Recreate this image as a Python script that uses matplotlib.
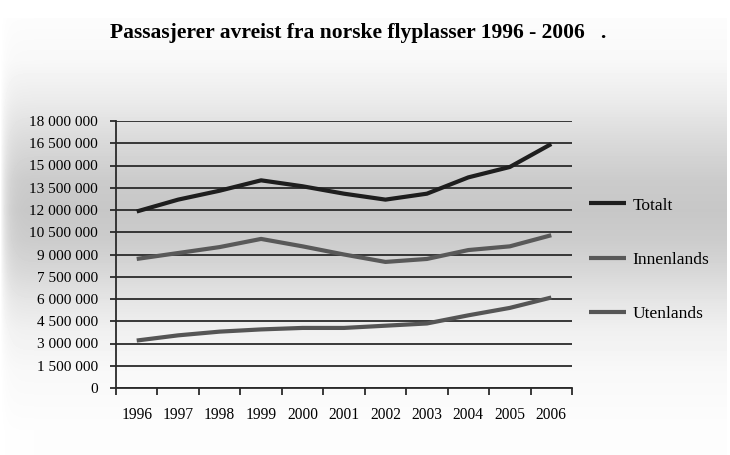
import matplotlib.pyplot as plt
import numpy as np

years = ['1996', '1997', '1998', '1999', '2000', '2001',
         '2002', '2003', '2004', '2005', '2006']
totalt = [11.9, 12.7, 13.3, 14.0, 13.6, 13.1, 12.7, 13.1, 14.2, 14.9, 16.45]
innenlands = [8.7, 9.1, 9.5, 10.05, 9.55, 9.0, 8.5, 8.7, 9.3, 9.55, 10.3]
utenlands = [3.2, 3.55, 3.8, 3.95, 4.05, 4.05, 4.2, 4.35, 4.9, 5.4, 6.1]
yticks = [0, 1.5, 3, 4.5, 6, 7.5, 9, 10.5, 12, 13.5, 15, 16.5, 18]
title = 'Passasjerer avreist fra norske flyplasser 1996 - 2006   .'


def tick_label(v):
    n = int(round(v * 1_000_000))
    return f'{n:,}'.replace(',', ' ')


def background(fig):
    # grey band behind the chart, light at top and bottom
    h, w = 455, 730
    rows = np.arange(h)
    g = np.interp(rows, [18, 60, 100, 140, 180, 210, 240, 270, 300, 330, 370, 430],
                  [252, 248, 235, 218, 203, 199, 204, 215, 229, 240, 248, 253])
    g[rows < 18] = 255
    img = np.repeat(g[:, None], w, axis=1)
    cols = np.arange(w)
    img = img + (255 - img) * np.exp(-cols / 6.0)[None, :]
    img[:, cols > 726] = 255
    bg = fig.add_axes([0, 0, 1, 1], zorder=-10)
    bg.imshow(img / 255, cmap='gray', vmin=0, vmax=1, aspect='auto')
    bg.axis('off')


def main():
    plt.rcParams['font.family'] = ['Liberation Serif', 'DejaVu Serif']
    fig = plt.figure(figsize=(7.3, 4.55), dpi=100)
    background(fig)

    ax = fig.add_axes([116 / 730, 67 / 455, 456 / 730, 267 / 455])
    ax.patch.set_alpha(0)
    x = np.arange(len(years))

    ax.plot(x, totalt, color='#1e1e1e', lw=3.0, label='Totalt',
            solid_capstyle='butt')
    ax.plot(x, innenlands, color='#595959', lw=3.0, label='Innenlands',
            solid_capstyle='butt')
    ax.plot(x, utenlands, color='#555555', lw=3.0, label='Utenlands',
            solid_capstyle='butt')

    ax.set_xlim(-0.5, len(years) - 0.5)
    ax.set_ylim(0, 18)
    ax.set_yticks(yticks)
    ax.set_yticklabels([tick_label(v) for v in yticks], fontsize=11)
    ax.yaxis.grid(True, color='#2a2a2a', lw=1.3)
    ax.set_axisbelow(True)
    ax.tick_params(axis='y', length=4, width=1.3, color='#2a2a2a', pad=9)

    ax.set_xticks(x)
    ax.set_xticklabels(years, fontsize=11.2)
    ax.tick_params(axis='x', length=0, pad=14)
    ax.set_xticks(np.arange(len(years) + 1) - 0.5, minor=True)
    ax.tick_params(axis='x', which='minor', length=5, width=1.3,
                   color='#2a2a2a')

    for s in ['top', 'right']:
        ax.spines[s].set_visible(False)
    for s in ['left', 'bottom']:
        ax.spines[s].set_color('#2a2a2a')
        ax.spines[s].set_linewidth(1.3)

    ax.legend(loc='center left', bbox_to_anchor=(1.004, 0.48), frameon=False,
              fontsize=12.5, labelspacing=2.2, handlelength=2.13,
              handletextpad=0.35)

    fig.text(0.49, 0.9275, title, ha='center', va='center', fontsize=15.5,
             fontweight='bold')

    fig.savefig('out.png', dpi=100)


main()
